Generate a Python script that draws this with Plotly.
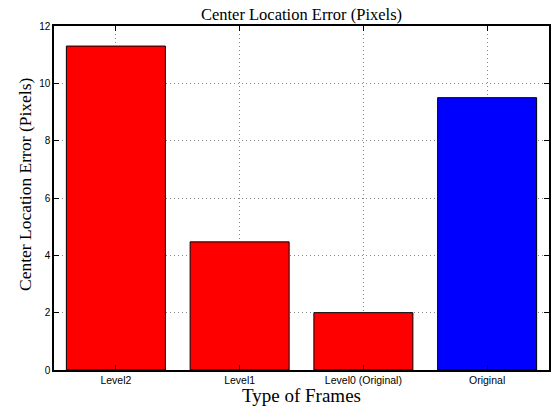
import plotly.graph_objects as go

categories = ["Level2", "Level1", "Level0 (Original)", "Original"]
values = [11.3, 4.47, 2.0, 9.5]
colors = ["#ff0000", "#ff0000", "#ff0000", "#0000ff"]
y_ticks = [0, 2, 4, 6, 8, 10, 12]

fig = go.Figure(go.Bar(
    x=list(range(len(categories))), y=values,
    marker=dict(color=colors, line=dict(color="black", width=1)),
    width=0.8,
))

axis_common = dict(
    showline=True, linecolor="black", linewidth=1.5, mirror="ticks",
    ticks="inside", ticklen=5, tickcolor="black",
    showgrid=True, gridcolor="#888888", griddash="1px,3px", gridwidth=1,
    zeroline=False, automargin=False,
)
serif = "Liberation Serif, Times New Roman"

fig.update_layout(
    width=558, height=406,
    margin=dict(l=54, r=9, t=26, b=36),
    paper_bgcolor="white", plot_bgcolor="white",
    showlegend=False,
    title=dict(text="Center Location Error (Pixels)", x=0.5, xanchor="center",
               xref="paper", y=1 - 14 / 406, yanchor="middle", automargin=False,
               font=dict(family=serif, size=16.5, color="black")),
    xaxis=dict(
        **axis_common,
        range=[-0.5, 3.5],
        tickvals=list(range(len(categories))), ticktext=categories,
        tickfont=dict(family="Liberation Sans, Arial", size=10.5, color="black"),
    ),
    yaxis=dict(
        **axis_common,
        range=[0, 12], tickvals=y_ticks,
        tickfont=dict(family="Liberation Sans, Arial", size=10, color="black"),
    ),
    annotations=[
        dict(text="Type of Frames", xref="paper", yref="paper",
             x=0.5, y=-26 / 344, xanchor="center", yanchor="middle",
             showarrow=False, font=dict(family=serif, size=19, color="black")),
        dict(text="Center Location Error (Pixels)", xref="paper", yref="paper",
             x=-29 / 495, y=(370 - 184) / 344, xanchor="center", yanchor="middle",
             textangle=-90, showarrow=False,
             font=dict(family=serif, size=17.5, color="black")),
    ],
)

fig.write_html("out.html", config={"displayModeBar": False},
               post_script="document.body.style.margin='0';document.body.style.overflow='hidden';")
